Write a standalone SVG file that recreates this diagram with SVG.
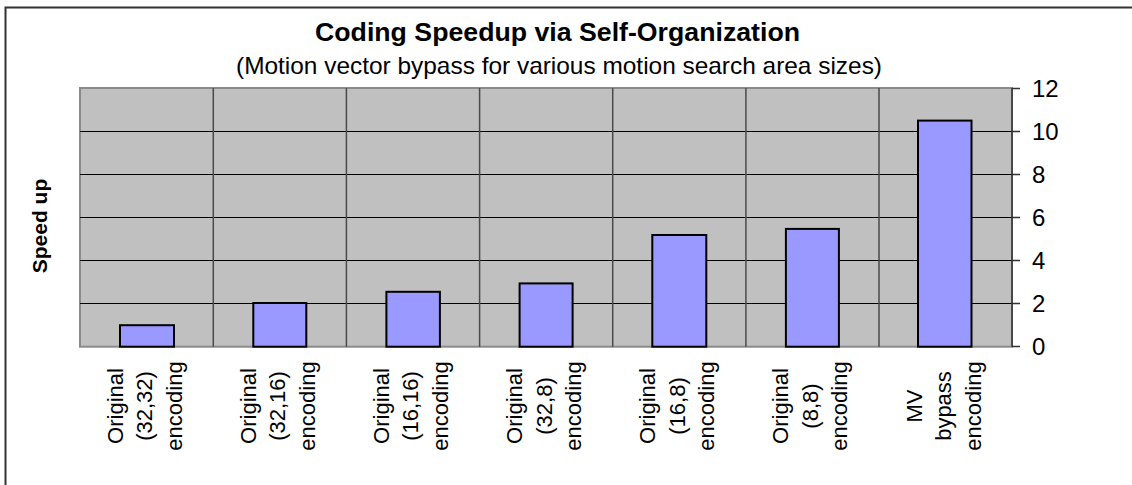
<svg xmlns="http://www.w3.org/2000/svg" width="1132" height="485" viewBox="0 0 1132 485">
  <style>
    .frame { fill: #ffffff; stroke: #333333; stroke-width: 2; }
    .plot { fill: #c0c0c0; stroke: #8a8a8a; stroke-width: 2; }
    .hgrid { stroke: #000000; stroke-width: 1; }
    .vgrid { stroke: #4a4a4a; stroke-width: 1.5; }
    .axis { stroke: #333333; stroke-width: 1.5; fill: none; }
    .bar { fill: #9999ff; stroke: #000000; stroke-width: 2; }
    .title { font-family: "Liberation Sans", Arial, sans-serif; font-weight: bold; font-size: 26px; fill: #000; }
    .sub { font-family: "Liberation Sans", Arial, sans-serif; font-size: 24px; fill: #000; }
    .tick { font-family: "Liberation Sans", Arial, sans-serif; font-size: 24px; fill: #000; }
    .cat { font-family: "Liberation Sans", Arial, sans-serif; font-size: 22px; fill: #000; text-anchor: middle; }
    .ytitle { font-family: "Liberation Sans", Arial, sans-serif; font-weight: bold; font-size: 21px; fill: #000; text-anchor: middle; }
  </style>

  <!-- chart frame -->
  <rect class="frame" x="5.5" y="7.5" width="1140" height="500"/>

  <!-- titles -->
  <text class="title" x="315" y="41" textLength="485" lengthAdjust="spacingAndGlyphs">Coding Speedup via Self-Organization</text>
  <text class="sub" x="236" y="74" textLength="646" lengthAdjust="spacingAndGlyphs">(Motion vector bypass for various motion search area sizes)</text>

  <!-- plot area -->
  <g id="plot-area">
    <rect class="plot" x="80" y="88" width="932" height="258.7"/>
    <g id="gridlines">
      <line class="hgrid" x1="80" y1="131.5" x2="1012" y2="131.5"/>
      <line class="hgrid" x1="80" y1="174.5" x2="1012" y2="174.5"/>
      <line class="hgrid" x1="80" y1="217.5" x2="1012" y2="217.5"/>
      <line class="hgrid" x1="80" y1="260.5" x2="1012" y2="260.5"/>
      <line class="hgrid" x1="80" y1="303.5" x2="1012" y2="303.5"/>
      <line class="vgrid" x1="213.3" y1="88" x2="213.3" y2="346.7"/>
      <line class="vgrid" x1="346.4" y1="88" x2="346.4" y2="346.7"/>
      <line class="vgrid" x1="479.6" y1="88" x2="479.6" y2="346.7"/>
      <line class="vgrid" x1="612.7" y1="88" x2="612.7" y2="346.7"/>
      <line class="vgrid" x1="745.9" y1="88" x2="745.9" y2="346.7"/>
      <line class="vgrid" x1="879" y1="88" x2="879" y2="346.7"/>
    </g>
  </g>

  <!-- value axis on the right -->
  <g id="value-axis">
    <path class="axis" d="M1012,88 V346.7 M1012,88.5 H1020 M1012,131.5 H1020 M1012,174.5 H1020 M1012,217.5 H1020 M1012,260.5 H1020 M1012,303.5 H1020 M1012,346.5 H1020"/>
    <text class="tick" x="1032" y="97">12</text>
    <text class="tick" x="1032" y="140">10</text>
    <text class="tick" x="1032" y="183">8</text>
    <text class="tick" x="1032" y="226">6</text>
    <text class="tick" x="1032" y="269">4</text>
    <text class="tick" x="1032" y="312">2</text>
    <text class="tick" x="1032" y="355">0</text>
  </g>

  <text class="ytitle" transform="translate(47,226) rotate(-90)">Speed up</text>

  <!-- bars -->
  <g id="bar-32-32"><rect class="bar" x="120" y="325.2" width="54" height="21.5"/></g>
  <g id="bar-32-16"><rect class="bar" x="253.3" y="303" width="53" height="43.7"/></g>
  <g id="bar-16-16"><rect class="bar" x="386.4" y="291.8" width="53.5" height="54.9"/></g>
  <g id="bar-32-8"><rect class="bar" x="519.6" y="283.4" width="53" height="63.3"/></g>
  <g id="bar-16-8"><rect class="bar" x="652.3" y="235" width="54" height="111.7"/></g>
  <g id="bar-8-8"><rect class="bar" x="785.9" y="228.9" width="53" height="117.8"/></g>
  <g id="bar-mv"><rect class="bar" x="918" y="120.6" width="53.5" height="226.1"/></g>

  <!-- category labels -->
  <g id="labels">
    <g transform="translate(146.6,406) rotate(-90)">
      <text class="cat" y="-24">Original</text><text class="cat" y="5.5">(32,32)</text><text class="cat" y="35">encoding</text>
    </g>
    <g transform="translate(279.7,406) rotate(-90)">
      <text class="cat" y="-24">Original</text><text class="cat" y="5.5">(32,16)</text><text class="cat" y="35">encoding</text>
    </g>
    <g transform="translate(412.9,406) rotate(-90)">
      <text class="cat" y="-24">Original</text><text class="cat" y="5.5">(16,16)</text><text class="cat" y="35">encoding</text>
    </g>
    <g transform="translate(546,406) rotate(-90)">
      <text class="cat" y="-24">Original</text><text class="cat" y="5.5">(32,8)</text><text class="cat" y="35">encoding</text>
    </g>
    <g transform="translate(679.2,406) rotate(-90)">
      <text class="cat" y="-24">Original</text><text class="cat" y="5.5">(16,8)</text><text class="cat" y="35">encoding</text>
    </g>
    <g transform="translate(812.3,406) rotate(-90)">
      <text class="cat" y="-24">Original</text><text class="cat" y="5.5">(8,8)</text><text class="cat" y="35">encoding</text>
    </g>
    <g transform="translate(945.5,406) rotate(-90)">
      <text class="cat" y="-24">MV</text><text class="cat" y="5.5">bypass</text><text class="cat" y="35">encoding</text>
    </g>
  </g>
</svg>
